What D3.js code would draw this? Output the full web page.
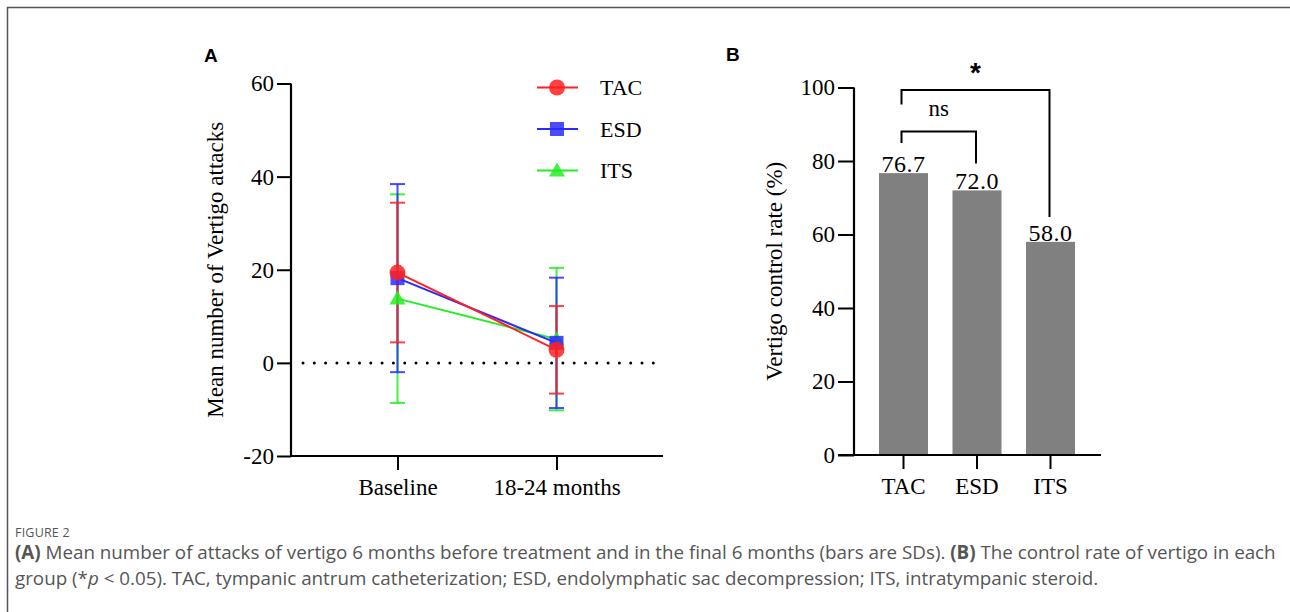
<!DOCTYPE html>
<html>
<head>
<meta charset="utf-8">
<script src="https://cdn.jsdelivr.net/npm/d3@7"></script>
<style>
  body { margin: 0; background: #fff; }
  svg { display: block; }
</style>
</head>
<body>
<div id="chart"></div>
<script>
// Panel A: mean attacks (SD) per group at two timepoints
const timepoints = ['Baseline', '18-24 months'];
const groups = ['TAC', 'ESD', 'ITS'];
const groupColors = ['#ff2020', '#2a2aff', '#22ee22'];
const groupShapes = ['circle', 'square', 'triangle'];
const meanTAC = [19.4, 2.8];
const sdTAC = [15.0, 9.4];
const meanESD = [18.2, 4.3];
const sdESD = [20.2, 14.0];
const meanITS = [13.8, 5.1];
const sdITS = [22.4, 15.3];
const yTicksA = [-20, 0, 20, 40, 60];

// Panel B: control rate
const rateGroups = ['TAC', 'ESD', 'ITS'];
const rateValues = [76.7, 72.0, 58.0];
const yTicksB = [0, 20, 40, 60, 80, 100];

const captionTitle = 'FIGURE 2';

const W = 1290, H = 612;
const svg = d3.select('#chart').append('svg')
    .attr('width', W)
    .attr('height', H);

// frame
svg.append('path')
    .attr('d', `M7.5,${H} L7.5,7.5 L${W},7.5`)
    .attr('fill', 'none')
    .attr('stroke', '#555')
    .attr('stroke-width', 1.5);

const serif = '"Liberation Serif", "Times New Roman", serif';
const FS = 23;

// ---------- Panel A ----------
const xA = d3.scalePoint().domain(timepoints).range([397.5, 556.5]);
const yA = d3.scaleLinear().domain([-20, 60]).range([456, 83.5]);

const gA = svg.append('g');

svg.append('text')
    .attr('x', 204).attr('y', 62)
    .attr('font-family', 'Arial, "Liberation Sans", sans-serif')
    .attr('font-weight', 'bold')
    .attr('font-size', 19)
    .text('A');

// zero dotted line
gA.append('line')
    .attr('x1', 303).attr('x2', 660)
    .attr('y1', yA(0)).attr('y2', yA(0))
    .attr('stroke', '#000')
    .attr('stroke-width', 3)
    .attr('stroke-linecap', 'round')
    .attr('stroke-dasharray', '0 11.3');

// y axis
const yAxisA = gA.append('g')
    .attr('transform', 'translate(291,0)')
    .call(d3.axisLeft(yA).tickValues(yTicksA).tickSize(14).tickPadding(3).tickFormat(d => String(d)));
// x axis
const xAxisA = gA.append('g')
    .attr('transform', `translate(0,${yA(-20)})`)
    .call(d3.axisBottom(xA).tickSize(14).tickPadding(9));
xAxisA.select('.domain').attr('d', 'M291,0H663');

[yAxisA, xAxisA].forEach(ax => {
    ax.select('.domain').attr('stroke-width', 2.2);
    ax.selectAll('.tick line').attr('stroke-width', 2);
    ax.selectAll('text')
        .attr('font-family', serif)
        .attr('font-size', FS)
        .attr('fill', '#000');
});
yAxisA.select('.domain').attr('d', `M0,${yA(60)}V${yA(-20)}`);
xAxisA.selectAll('text').attr('dy', '0.71em');

gA.append('text')
    .attr('transform', `translate(223,${(yA(60) + yA(-20)) / 2}) rotate(-90)`)
    .attr('text-anchor', 'middle')
    .attr('font-family', serif)
    .attr('font-size', FS)
    .text('Mean number of Vertigo attacks');

const seriesA = [
    { name: 'TAC', mean: meanTAC, sd: sdTAC, color: groupColors[0], shape: groupShapes[0] },
    { name: 'ESD', mean: meanESD, sd: sdESD, color: groupColors[1], shape: groupShapes[1] },
    { name: 'ITS', mean: meanITS, sd: sdITS, color: groupColors[2], shape: groupShapes[2] }
];

function drawMarker(g, shape, x, y, color) {
    if (shape === 'circle') {
        g.append('circle').attr('cx', x).attr('cy', y).attr('r', 8)
            .attr('fill', color).attr('fill-opacity', 0.85);
    } else if (shape === 'square') {
        g.append('rect').attr('x', x - 7).attr('y', y - 7).attr('width', 14).attr('height', 14)
            .attr('fill', color).attr('fill-opacity', 0.85);
    } else {
        g.append('path')
            .attr('d', `M${x},${y - 8} L${x + 8},${y + 6} L${x - 8},${y + 6} Z`)
            .attr('fill', color).attr('fill-opacity', 0.85);
    }
}

const line = d3.line().x((d, i) => xA(timepoints[i])).y(d => yA(d));

// draw back-to-front: ITS, ESD, TAC
const drawOrder = [2, 1, 0];

// error bars
drawOrder.forEach(k => {
    const s = seriesA[k];
    timepoints.forEach((t, i) => {
        const x = xA(t);
        const hi = yA(s.mean[i] + s.sd[i]);
        const lo = yA(s.mean[i] - s.sd[i]);
        const eb = gA.append('g').attr('stroke', s.color).attr('stroke-width', 2).attr('stroke-opacity', 0.85);
        eb.append('line').attr('x1', x).attr('x2', x).attr('y1', hi).attr('y2', lo);
        eb.append('line').attr('x1', x - 7.5).attr('x2', x + 7.5).attr('y1', hi).attr('y2', hi);
        eb.append('line').attr('x1', x - 7.5).attr('x2', x + 7.5).attr('y1', lo).attr('y2', lo);
    });
});

// connecting lines and markers
drawOrder.forEach(k => {
    const s = seriesA[k];
    gA.append('path')
        .datum(s.mean)
        .attr('d', line)
        .attr('fill', 'none')
        .attr('stroke', s.color)
        .attr('stroke-width', 2);
    timepoints.forEach((t, i) => drawMarker(gA, s.shape, xA(t), yA(s.mean[i]), s.color));
});

// legend
const legendY = d3.scalePoint().domain(groups).range([87.5, 170.5]);
seriesA.forEach(s => {
    const y = legendY(s.name);
    gA.append('line')
        .attr('x1', 537).attr('x2', 578)
        .attr('y1', y).attr('y2', y)
        .attr('stroke', s.color).attr('stroke-width', 2);
    drawMarker(gA, s.shape, 557, y, s.color);
    gA.append('text')
        .attr('x', 600).attr('y', y)
        .attr('dy', '0.35em')
        .attr('font-family', serif)
        .attr('font-size', 22)
        .text(s.name);
});

// ---------- Panel B ----------
const xB = d3.scaleBand().domain(rateGroups).range([854, 1100]).paddingInner(0.333).paddingOuter(0.34);
const yB = d3.scaleLinear().domain([0, 100]).range([455, 87.5]);
const gB = svg.append('g');

svg.append('text')
    .attr('x', 726).attr('y', 61)
    .attr('font-family', 'Arial, "Liberation Sans", sans-serif')
    .attr('font-weight', 'bold')
    .attr('font-size', 19)
    .text('B');

gB.selectAll('rect.bar')
    .data(rateValues)
    .enter()
    .append('rect')
    .attr('class', 'bar')
    .attr('x', (d, i) => xB(rateGroups[i]))
    .attr('y', d => yB(d))
    .attr('width', xB.bandwidth())
    .attr('height', d => yB(0) - yB(d))
    .attr('fill', '#808080');

gB.selectAll('text.val')
    .data(rateValues)
    .enter()
    .append('text')
    .attr('class', 'val')
    .attr('x', (d, i) => xB(rateGroups[i]) + xB.bandwidth() / 2)
    .attr('y', d => yB(d) - 1)
    .attr('text-anchor', 'middle')
    .attr('font-family', serif)
    .attr('font-size', 24)
    .attr('letter-spacing', 0.5)
    .text(d => d3.format('.1f')(d));

const yAxisB = gB.append('g')
    .attr('transform', 'translate(854,0)')
    .call(d3.axisLeft(yB).tickValues(yTicksB).tickSize(16).tickPadding(3));
const xAxisB = gB.append('g')
    .attr('transform', `translate(0,${yB(0)})`)
    .call(d3.axisBottom(xB).tickSize(14).tickPadding(9));
xAxisB.select('.domain').attr('d', 'M838,0H1101');
yAxisB.select('.domain').attr('d', `M0,${yB(100)}V${yB(0)}`);
[yAxisB, xAxisB].forEach(ax => {
    ax.select('.domain').attr('stroke-width', 2.2);
    ax.selectAll('.tick line').attr('stroke-width', 2);
    ax.selectAll('text')
        .attr('font-family', serif)
        .attr('font-size', FS)
        .attr('fill', '#000');
});
xAxisB.selectAll('text').attr('dy', '0.71em');

gB.append('text')
    .attr('transform', `translate(782,${(yB(100) + yB(0)) / 2}) rotate(-90)`)
    .attr('text-anchor', 'middle')
    .attr('font-family', serif)
    .attr('font-size', FS)
    .text('Vertigo control rate (%)');

// significance brackets
const cx = i => xB(rateGroups[i]) + xB.bandwidth() / 2;
const brackets = [
    { a: 0, b: 1, y: 131.5, la: 143, lb: 163.5, label: 'ns' },
    { a: 0, b: 2, y: 90, la: 104.5, lb: 217, label: '*' }
];
brackets.forEach(br => {
    const x1 = cx(br.a) - 2, x2 = cx(br.b) - 1;
    gB.append('path')
        .attr('d', `M${x1},${br.la} V${br.y} H${x2} V${br.lb}`)
        .attr('fill', 'none')
        .attr('stroke', '#000')
        .attr('stroke-width', 2);
    if (br.label === '*') {
        gB.append('text')
            .attr('x', (x1 + x2) / 2).attr('y', br.y - 8)
            .attr('text-anchor', 'middle')
            .attr('font-family', 'Arial, "Liberation Sans", sans-serif')
            .attr('font-weight', 'bold')
            .attr('font-size', 28)
            .text('*');
    } else {
        gB.append('text')
            .attr('x', (x1 + x2) / 2).attr('y', br.y - 16)
            .attr('text-anchor', 'middle')
            .attr('font-family', serif)
            .attr('font-size', FS)
            .text(br.label);
    }
});

// ---------- Caption ----------
const cap = svg.append('g').attr('font-family', '"Open Sans", "Noto Sans", sans-serif').attr('fill', '#555');
cap.append('text')
    .attr('x', 15).attr('y', 537)
    .attr('font-size', 12.5)
    .attr('letter-spacing', 0.2)
    .text(captionTitle);

const l1 = cap.append('text').attr('x', 15).attr('y', 559).attr('font-size', 18.8);
l1.append('tspan').attr('font-weight', 'bold').text('(A)');
l1.append('tspan').text(' Mean number of attacks of vertigo 6 months before treatment and in the final 6 months (bars are SDs). ');
l1.append('tspan').attr('font-weight', 'bold').text('(B)');
l1.append('tspan').text(' The control rate of vertigo in each');

const l2 = cap.append('text').attr('x', 15).attr('y', 585).attr('font-size', 18.8);
l2.append('tspan').text('group (*');
l2.append('tspan').attr('font-style', 'italic').text('p');
l2.append('tspan').text(' < 0.05). TAC, tympanic antrum catheterization; ESD, endolymphatic sac decompression; ITS, intratympanic steroid.');
</script>
</body>
</html>
